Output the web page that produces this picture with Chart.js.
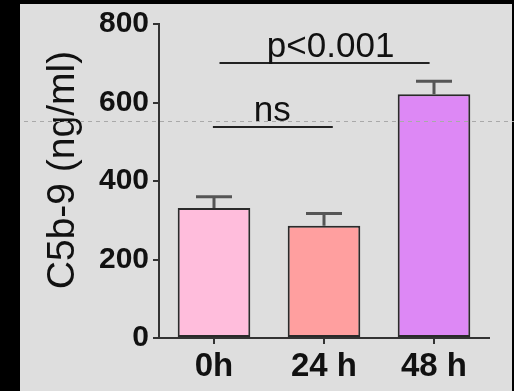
<!DOCTYPE html>
<html>
<head>
<meta charset="utf-8">
<script src="https://cdn.jsdelivr.net/npm/chart.js@4.4.1/dist/chart.umd.min.js"></script>
<style>
  html, body { margin: 0; padding: 0; background: #000; }
  canvas { display: block; }
</style>
</head>
<body>
<canvas id="c5b9Chart" width="514" height="391"></canvas>
<script>
// data
const groups = ['0h', '24 h', '48 h'];
const meanValues = [331, 286, 621];
const semValues = [29, 31, 33];
const barColors = ['#ffbddc', '#ff9f9f', '#dd88f5'];
const yTicks = [0, 200, 400, 600, 800];
const yTitle = 'C5b-9 (ng/ml)';

// significance brackets (category index units, y in ng/ml)
const sigText = ['ns', 'p<0.001'];
const sigStart = [-0.01, 0.05];
const sigEnd = [1.08, 1.96];
const sigTextAt = [0.53, 1.06];
const sigLevel = [538, 700];

// dashed guide line across the figure
const guideLevel = 553;

const fontFamily = "'Liberation Sans', Arial, sans-serif";

// gray panel inside the black frame
const backgroundPlugin = {
  id: 'panelBackground',
  beforeDraw(chart) {
    const ctx = chart.ctx;
    ctx.save();
    ctx.fillStyle = '#000';
    ctx.fillRect(0, 0, chart.width, chart.height);
    ctx.fillStyle = '#dedede';
    ctx.fillRect(20, 4, 492, chart.height - 4);
    ctx.restore();
  }
};

// upper error bars
const errorBarPlugin = {
  id: 'errorBars',
  afterDatasetsDraw(chart) {
    const ctx = chart.ctx;
    const yScale = chart.scales.y;
    const bars = chart.getDatasetMeta(0).data;
    ctx.save();
    ctx.strokeStyle = '#555';
    ctx.lineWidth = 3;
    bars.forEach((bar, i) => {
      const top = yScale.getPixelForValue(meanValues[i] + semValues[i]);
      ctx.beginPath();
      ctx.moveTo(bar.x, bar.y);
      ctx.lineTo(bar.x, top);
      ctx.moveTo(bar.x - 18, top);
      ctx.lineTo(bar.x + 18, top);
      ctx.stroke();
    });
    ctx.restore();
  }
};

// axis title, significance lines + labels and the dashed guide line
const annotationPlugin = {
  id: 'annotations',
  afterDraw(chart) {
    const ctx = chart.ctx;
    const xScale = chart.scales.x;
    const yScale = chart.scales.y;
    ctx.save();

    // y title sits a bit above the plot's centre in the original
    ctx.save();
    ctx.translate(63, 170);
    ctx.rotate(-Math.PI / 2);
    ctx.fillStyle = '#111';
    ctx.font = '39px ' + fontFamily;
    ctx.textAlign = 'center';
    ctx.textBaseline = 'middle';
    ctx.fillText(yTitle, 0, 0);
    ctx.restore();

    ctx.strokeStyle = '#222';
    ctx.lineWidth = 2;
    ctx.fillStyle = '#111';
    ctx.font = '35px ' + fontFamily;
    ctx.textAlign = 'center';
    ctx.textBaseline = 'alphabetic';
    sigText.forEach((label, i) => {
      const y = Math.round(yScale.getPixelForValue(sigLevel[i]));
      ctx.beginPath();
      ctx.moveTo(xScale.getPixelForValue(sigStart[i]), y);
      ctx.lineTo(xScale.getPixelForValue(sigEnd[i]), y);
      ctx.stroke();
      ctx.fillText(label, xScale.getPixelForValue(sigTextAt[i]), y - 6);
    });

    const gy = Math.round(yScale.getPixelForValue(guideLevel)) + 0.5;
    ctx.strokeStyle = '#a9a9a9';
    ctx.lineWidth = 1;
    ctx.setLineDash([4, 4]);
    ctx.beginPath();
    ctx.moveTo(24, gy);
    ctx.lineTo(chart.width, gy);
    ctx.stroke();
    ctx.restore();
  }
};

const ctx = document.getElementById('c5b9Chart');

new Chart(ctx, {
  type: 'bar',
  data: {
    labels: groups,
    datasets: [{
      data: meanValues,
      backgroundColor: barColors,
      borderColor: '#2a2a2a',
      borderWidth: 2,
      borderSkipped: false,
      barPercentage: 0.66,
      categoryPercentage: 1
    }]
  },
  options: {
    responsive: false,
    animation: false,
    layout: {
      padding: { left: 0, top: 24, right: 25, bottom: 0 }
    },
    plugins: {
      legend: { display: false },
      tooltip: { enabled: false }
    },
    scales: {
      x: {
        offset: true,
        afterFit(scale) {
          scale.height = 53;
        },
        grid: {
          offset: false,
          drawOnChartArea: false,
          drawTicks: true,
          tickLength: 6,
          color: '#333',
          lineWidth: 2
        },
        border: { display: true, color: '#333', width: 2 },
        ticks: {
          color: '#111',
          padding: 3,
          font: { family: fontFamily, size: 33, weight: 'bold' }
        }
      },
      y: {
        min: 0,
        max: 800,
        afterBuildTicks(scale) {
          scale.ticks = yTicks.map(v => ({ value: v }));
        },
        afterFit(scale) {
          scale.width = 159;
        },
        grid: {
          drawOnChartArea: false,
          drawTicks: true,
          tickLength: 6,
          color: '#333',
          lineWidth: 2
        },
        border: { display: true, color: '#333', width: 2 },
        ticks: {
          color: '#111',
          padding: 4,
          font: { family: fontFamily, size: 30, weight: 'bold' }
        }
      }
    }
  },
  plugins: [backgroundPlugin, errorBarPlugin, annotationPlugin]
});
</script>
</body>
</html>
